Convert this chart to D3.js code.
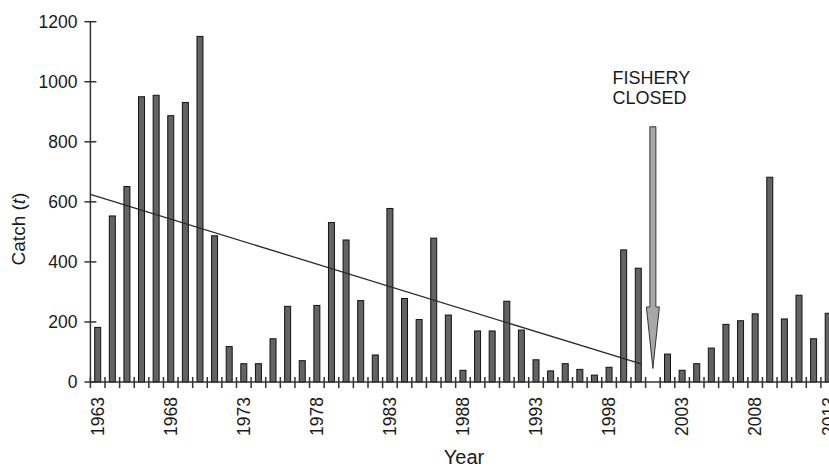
<!DOCTYPE html>
<html>
<head>
<meta charset="utf-8">
<script src="https://cdn.jsdelivr.net/npm/d3@7"></script>
<style>
  html, body { margin: 0; padding: 0; background: #fff; }
  svg { display: block; font-family: "Liberation Sans", Arial, Helvetica, sans-serif; }
</style>
</head>
<body>
<svg id="chart" width="829" height="467"></svg>
<script>
// Annual catch (tonnes), 1963-2013; no catch in 2001 (fishery closed)
const years = d3.range(1963, 2014);
const catches = [
  182, 553, 651, 950, 955, 887, 931, 1151, 487, 118,
  61, 61, 144, 252, 71, 255, 531, 473, 271, 90,
  578, 278, 208, 479, 223, 39, 170, 170, 269, 173,
  74, 37, 61, 42, 23, 49, 440, 379, 0, 93,
  39, 61, 113, 192, 204, 227, 682, 210, 289, 144,
  229
];
const yTicks = [0, 200, 400, 600, 800, 1000, 1200];
const xTickLabels = [1963, 1968, 1973, 1978, 1983, 1988, 1993, 1998, 2003, 2008, 2013];

// Linear trend over the fished period (1963-2000)
const trendYears = [1962.5, 2000.2];
const trendValues = [625, 60];

// Closure annotation
const closureYear = 2001;
const arrowValues = { top: 850, headStart: 250, tip: 45 };
const closureText = ["FISHERY", "CLOSED"];

const svg = d3.select("#chart");
const x0 = 90.4, step = 14.61;
const x = d3.scaleBand().domain(years).range([x0, x0 + step * years.length]).padding(0);
const y = d3.scaleLinear().domain([0, 1200]).range([382, 21.7]);
const xc = d3.scaleLinear().domain([1963, 2013])
  .range([x(1963) + x.bandwidth() / 2, x(2013) + x.bandwidth() / 2]);

const ink = "#1a1a1a";
const axisCol = "#333";

// Bars
const barW = 6;
svg.append("g").selectAll("rect")
  .data(years.map((yr, i) => ({ yr, v: catches[i] })).filter(d => d.v > 0))
  .join("rect")
  .attr("x", d => x(d.yr) + x.bandwidth() / 2 - barW / 2)
  .attr("y", d => y(d.v))
  .attr("width", barW)
  .attr("height", d => y(0) - y(d.v))
  .attr("fill", "#636363")
  .attr("stroke", "#111")
  .attr("stroke-width", 1);

// Y axis (ticks crossing the line)
const yAxisX = x0;
const gy = svg.append("g");
gy.append("line")
  .attr("x1", yAxisX).attr("x2", yAxisX)
  .attr("y1", y(1200)).attr("y2", y(0))
  .attr("stroke", axisCol).attr("stroke-width", 1.5);
gy.selectAll("line.tick").data(yTicks).join("line")
  .attr("class", "tick")
  .attr("x1", yAxisX - 6).attr("x2", yAxisX + 6)
  .attr("y1", d => y(d)).attr("y2", d => y(d))
  .attr("stroke", axisCol).attr("stroke-width", 1.5);
gy.selectAll("text").data(yTicks).join("text")
  .attr("x", 77.5)
  .attr("y", d => y(d))
  .attr("dy", "0.36em")
  .attr("text-anchor", "end")
  .attr("font-size", 17.5)
  .attr("fill", ink)
  .text(d => d);

// X axis: line and ticks at every band boundary
const gx = svg.append("g");
gx.append("line")
  .attr("x1", x0).attr("x2", x0 + step * years.length)
  .attr("y1", y(0)).attr("y2", y(0))
  .attr("stroke", axisCol).attr("stroke-width", 1.5);
const bounds = years.map(yr => x(yr)).concat([x(2013) + x.bandwidth()]);
gx.selectAll("line.tick").data(bounds).join("line")
  .attr("class", "tick")
  .attr("x1", d => d).attr("x2", d => d)
  .attr("y1", y(0) - 5).attr("y2", y(0) + 6)
  .attr("stroke", axisCol).attr("stroke-width", 1.5);
gx.selectAll("text").data(xTickLabels).join("text")
  .attr("transform", d => `translate(${x(d) + x.bandwidth() / 2},${y(0) + 15}) rotate(-90)`)
  .attr("dy", "0.36em")
  .attr("text-anchor", "end")
  .attr("font-size", 17.5)
  .attr("fill", ink)
  .text(d => d);

// Trend line
svg.append("line")
  .attr("x1", xc(trendYears[0])).attr("y1", y(trendValues[0]))
  .attr("x2", xc(trendYears[1])).attr("y2", y(trendValues[1]))
  .attr("stroke", "#2a2a2a").attr("stroke-width", 1.3);

// Closure arrow
const ax = xc(closureYear);
const shaftW = 6, headW = 13;
svg.append("path")
  .attr("d", [
    `M${ax - shaftW / 2},${y(arrowValues.top)}`,
    `L${ax + shaftW / 2},${y(arrowValues.top)}`,
    `L${ax + shaftW / 2},${y(arrowValues.headStart)}`,
    `L${ax + headW / 2},${y(arrowValues.headStart)}`,
    `L${ax},${y(arrowValues.tip)}`,
    `L${ax - headW / 2},${y(arrowValues.headStart)}`,
    `L${ax - shaftW / 2},${y(arrowValues.headStart)}`,
    "Z"
  ].join(""))
  .attr("fill", "#a8a8a8")
  .attr("stroke", "#333")
  .attr("stroke-width", 1);

svg.append("g").selectAll("text").data(closureText).join("text")
  .attr("x", 612.5)
  .attr("y", (d, i) => 83.5 + i * 20.7)
  .attr("font-size", 18)
  .attr("fill", ink)
  .text(d => d);

// Axis titles
svg.append("text")
  .attr("x", 464).attr("y", 463.5)
  .attr("text-anchor", "middle")
  .attr("font-size", 20)
  .attr("fill", ink)
  .text("Year");

const yt = svg.append("text")
  .attr("transform", "translate(25,229) rotate(-90)")
  .attr("text-anchor", "middle")
  .attr("font-size", 19)
  .attr("fill", ink);
yt.append("tspan").text("Catch (");
yt.append("tspan").attr("font-style", "italic").text("t");
yt.append("tspan").text(")");
</script>
</body>
</html>
